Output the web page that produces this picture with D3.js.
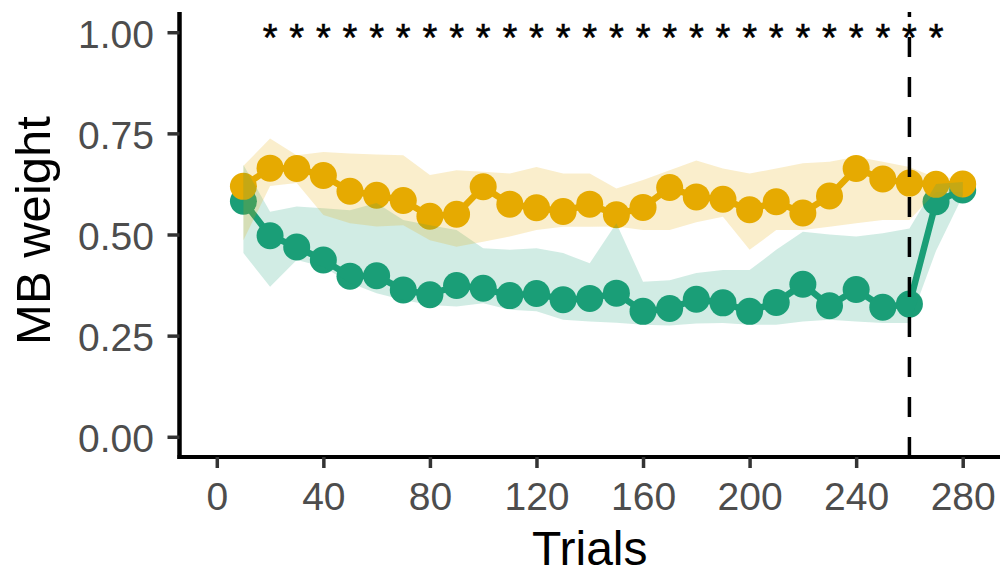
<!DOCTYPE html>
<html>
<head>
<meta charset="utf-8">
<script src="https://cdn.jsdelivr.net/npm/d3@7"></script>
<style>
  html, body { margin: 0; padding: 0; background: #ffffff; }
  svg { display: block; font-family: "Liberation Sans", Arial, Helvetica, sans-serif; }
</style>
</head>
<body>
<svg id="chart" width="1001" height="575"></svg>
<script>
// Trial bins (x positions of every point)
const trials = [10, 20, 30, 40, 50, 60, 70, 80, 90, 100, 110, 120, 130, 140,
                150, 160, 170, 180, 190, 200, 210, 220, 230, 240, 250, 260, 270, 280];

// Yellow group: mean MB weight and its interval
const yellowMean = [0.619, 0.664, 0.663, 0.646, 0.607, 0.597, 0.584, 0.545, 0.550, 0.618,
                    0.575, 0.566, 0.557, 0.575, 0.549, 0.567, 0.616, 0.593, 0.587, 0.561,
                    0.581, 0.553, 0.595, 0.663, 0.637, 0.627, 0.624, 0.625];
const yellowLow  = [0.486, 0.620, 0.627, 0.548, 0.528, 0.520, 0.523, 0.486, 0.470, 0.482,
                    0.495, 0.511, 0.519, 0.519, 0.520, 0.511, 0.511, 0.530, 0.544, 0.462,
                    0.511, 0.511, 0.519, 0.528, 0.536, 0.536, 0.605, 0.605];
const yellowHigh = [0.670, 0.737, 0.696, 0.704, 0.700, 0.698, 0.696, 0.647, 0.659, 0.655,
                    0.651, 0.667, 0.651, 0.651, 0.614, 0.635, 0.659, 0.683, 0.663, 0.651,
                    0.663, 0.676, 0.680, 0.692, 0.680, 0.667, 0.640, 0.640];

// Green group: mean MB weight and its interval
const greenMean = [0.582, 0.497, 0.469, 0.437, 0.397, 0.398, 0.363, 0.351, 0.374, 0.367,
                   0.349, 0.354, 0.339, 0.342, 0.355, 0.310, 0.317, 0.340, 0.331, 0.310,
                   0.332, 0.377, 0.324, 0.364, 0.320, 0.328, 0.581, 0.610];
const greenLow  = [0.454, 0.371, 0.437, 0.420, 0.380, 0.355, 0.338, 0.326, 0.322, 0.330,
                   0.314, 0.310, 0.289, 0.285, 0.282, 0.277, 0.275, 0.280, 0.281, 0.277,
                   0.277, 0.285, 0.289, 0.285, 0.281, 0.281, 0.460, 0.595];
const greenHigh = [0.672, 0.556, 0.569, 0.565, 0.560, 0.578, 0.536, 0.523, 0.511, 0.466,
                   0.462, 0.466, 0.454, 0.429, 0.528, 0.383, 0.387, 0.405, 0.412, 0.412,
                   0.462, 0.507, 0.500, 0.495, 0.503, 0.515, 0.625, 0.630];

// Bins marked as significant, and the trial where the task switches
const sigTrials = [20, 30, 40, 50, 60, 70, 80, 90, 100, 110, 120, 130, 140, 150,
                   160, 170, 180, 190, 200, 210, 220, 230, 240, 250, 260, 270];
const switchTrial = 260;

// Axis ticks
const xTicks = [0, 40, 80, 120, 160, 200, 240, 280];
const yTicks = [0, 0.25, 0.5, 0.75, 1.0];
const yTickLabels = ["0.00", "0.25", "0.50", "0.75", "1.00"];

const GREEN = "#1B9E77";
const YELLOW = "#E6AB02";

const svg = d3.select("#chart");
const panel = { left: 179.5, right: 1000, top: 12, bottom: 457 };

const x = d3.scaleLinear().domain([-14, 294]).range([panel.left, panel.right]);
const y = d3.scaleLinear().domain([-0.05, 1.05]).range([panel.bottom, panel.top]);

const groups = [
  { color: GREEN,  mean: greenMean,  low: greenLow,  high: greenHigh },
  { color: YELLOW, mean: yellowMean, low: yellowLow, high: yellowHigh }
];

const lineGen = d3.line().x(d => x(d.t)).y(d => y(d.m));
const areaGen = d3.area().x(d => x(d.t)).y0(d => y(d.lo)).y1(d => y(d.hi));

groups.forEach(g => {
  g.rows = trials.map((t, i) => ({ t, m: g.mean[i], lo: g.low[i], hi: g.high[i] }));
});

const plot = svg.append("g");

// Lines
groups.forEach(g => {
  plot.append("path")
    .datum(g.rows)
    .attr("d", lineGen)
    .attr("fill", "none")
    .attr("stroke", g.color)
    .attr("stroke-width", 6.5)
    .attr("stroke-linejoin", "round");
});

// Points
groups.forEach(g => {
  plot.append("g").selectAll("circle")
    .data(g.rows)
    .join("circle")
    .attr("cx", d => x(d.t))
    .attr("cy", d => y(d.m))
    .attr("r", 13.5)
    .attr("fill", g.color);
});

// Interval ribbons
groups.forEach(g => {
  plot.append("path")
    .datum(g.rows)
    .attr("d", areaGen)
    .attr("fill", g.color)
    .attr("fill-opacity", 0.2);
});

// Switch marker
svg.append("line")
  .attr("x1", x(switchTrial)).attr("x2", x(switchTrial))
  .attr("y1", panel.bottom).attr("y2", panel.top)
  .attr("stroke", "#000")
  .attr("stroke-width", 3.5)
  .attr("stroke-dasharray", "20,20");

// Significance stars
const starSize = 38;
svg.append("g").selectAll("text")
  .data(sigTrials)
  .join("text")
  .attr("x", d => x(d))
  .attr("y", y(1.0) + starSize * 0.49)
  .attr("text-anchor", "middle")
  .attr("font-size", starSize)
  .attr("fill", "#000")
  .attr("stroke", "#000")
  .attr("stroke-width", 0.6)
  .text("*");

// Axes
const yAxis = svg.append("g")
  .attr("transform", `translate(${panel.left},0)`)
  .call(d3.axisLeft(y).tickValues(yTicks).tickFormat((d, i) => yTickLabels[i])
    .tickSizeInner(12).tickSizeOuter(0).tickPadding(13.5));
yAxis.select(".domain").attr("stroke", "#000").attr("stroke-width", 4.5)
  .attr("d", `M0,${panel.top}V${panel.bottom + 2}`);
yAxis.selectAll(".tick line").attr("stroke", "#333").attr("stroke-width", 3.5);
yAxis.selectAll(".tick text").attr("font-size", 39).attr("fill", "#4D4D4D")
  .attr("font-family", "'Liberation Sans', Arial, sans-serif").attr("dy", "0.39em");

const xAxis = svg.append("g")
  .attr("transform", `translate(0,${panel.bottom})`)
  .call(d3.axisBottom(x).tickValues(xTicks).tickFormat(d3.format("d"))
    .tickSizeInner(11).tickSizeOuter(0).tickPadding(14));
xAxis.select(".domain").attr("stroke", "#000").attr("stroke-width", 4)
  .attr("d", `M${panel.left - 2},0H${panel.right}`);
xAxis.selectAll(".tick line").attr("stroke", "#333").attr("stroke-width", 3.5);
xAxis.selectAll(".tick text").attr("font-size", 39).attr("fill", "#4D4D4D")
  .attr("font-family", "'Liberation Sans', Arial, sans-serif");

// Axis titles
svg.append("text")
  .attr("x", (panel.left + panel.right) / 2)
  .attr("y", 565)
  .attr("text-anchor", "middle")
  .attr("font-size", 48)
  .attr("fill", "#000")
  .text("Trials");

svg.append("text")
  .attr("transform", `translate(50,${(panel.top + panel.bottom) / 2 - 4}) rotate(-90)`)
  .attr("text-anchor", "middle")
  .attr("font-size", 49)
  .attr("fill", "#000")
  .text("MB weight");
</script>
</body>
</html>
